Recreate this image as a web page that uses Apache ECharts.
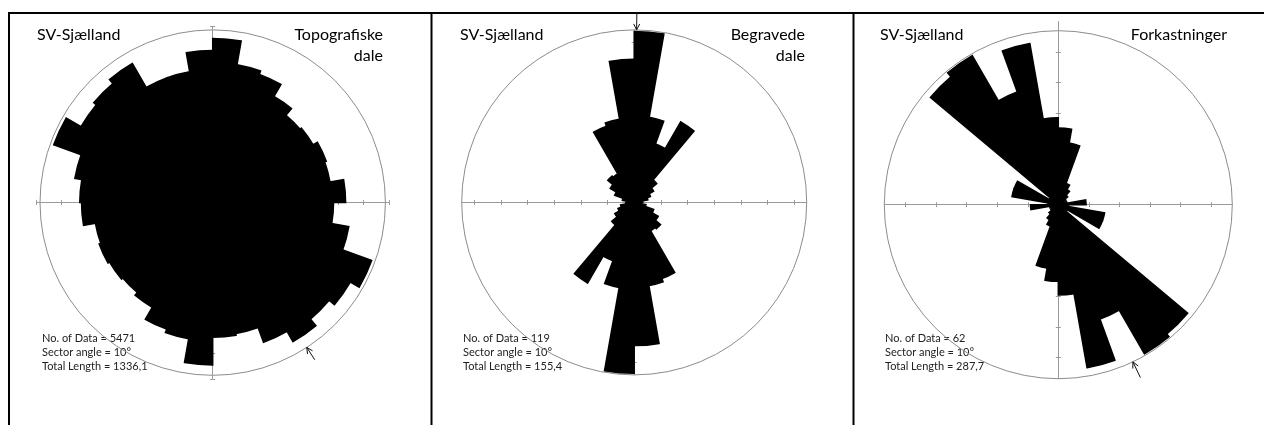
<!DOCTYPE html>
<html>
<head>
<meta charset="utf-8">
<script src="https://cdn.jsdelivr.net/npm/echarts@6/dist/echarts.min.js"></script>
<style>
  html, body { margin: 0; padding: 0; background: #fff; }
  #chart { width: 1264px; height: 425px; }
</style>
</head>
<body>
<div id="chart"></div>
<script>
// 10° sectors, clockwise from north
const sectors = Array.from({ length: 36 }, (_, i) => (i * 10) + '-' + (i * 10 + 10) + '°');

// Sector lengths in axis tick units, 0-10°, 10-20°, ... 350-360°
const topografiskeDale = [
  6.52, 5.56, 5.42, 4.87, 4.53, 4.60, 4.80, 4.73, 5.28,
  4.80, 5.49, 6.72, 6.31, 6.04, 6.38, 5.90, 5.28, 5.35,
  6.45, 5.49, 5.35, 4.80, 4.66, 4.73, 4.80, 4.73, 5.21,
  5.28, 5.56, 6.72, 6.04, 6.17, 6.38, 5.28, 5.28, 6.04
];
const begravedeDale = [
  6.41, 3.24, 2.33, 3.49, 1.10, 0.84, 0.65, 0.52, 0.32,
  0.26, 0.45, 0.78, 1.04, 1.29, 1.23, 3.04, 3.17, 5.37,
  6.41, 3.24, 2.33, 3.49, 1.10, 0.84, 0.65, 0.52, 0.32,
  0.26, 0.45, 0.78, 1.04, 1.29, 1.23, 3.04, 3.17, 5.37
];
const forkastninger = [
  2.51, 2.05, 0.74, 0.57, 0.40, 0.29, 0.23, 0.29, 0.91,
  0.34, 1.54, 1.54, 0.34, 5.53, 5.64, 3.99, 5.42, 2.96,
  2.51, 2.11, 0.74, 0.57, 0.40, 0.29, 0.23, 0.29, 0.91,
  0.34, 1.54, 1.54, 0.34, 5.47, 5.64, 3.93, 5.36, 2.85
];

// Outer ring value of each diagram, in tick units
const ringValues = [6.86, 6.47, 5.70];
// Extent of the axis cross: [x half-length, y bottom, y top]
const crossExtents = [[7, -7, 7], [6.47, -6.47, 6.47], [5.70, -5.70, 6.0]];
// Tick positions on the cross
const crossTicks = [
  [-7, -6, -5, -4, -3, -2, -1, 1, 2, 3, 4, 5, 6, 7],
  [-6, -5, -4, -3, -2, -1, 1, 2, 3, 4, 5, 6],
  [-5, -4, -3, -2, -1, 1, 2, 3, 4, 5]
];
// Mean direction marker: [azimuth °, from (×ring), to (×ring)]
const meanDirections = [[147, 1.085, 1.0], [0.8, 1.10, 1.0], [154.6, 1.10, 1.0]];

const region = 'SV-Sjælland';
const titles = [['Topografiske', 'dale'], ['Begravede', 'dale'], ['Forkastninger']];
const statLines = [
  ['No. of Data = 5471', 'Sector angle = 10°', 'Total Length = 1336,1'],
  ['No. of Data = 119', 'Sector angle = 10°', 'Total Length = 155,4'],
  ['No. of Data = 62', 'Sector angle = 10°', 'Total Length = 287,7']
];
const seriesData = [topografiskeDale, begravedeDale, forkastninger];

// Page layout (pixels)
const centers = [[212.7, 202.6], [634.2, 202.4], [1058.3, 204.7]];
const radii = [172.7, 172.5, 174.0];
const panelLeft = [37, 460, 880];
const panelRight = [383, 805, 1227];
const statLeft = [42, 463, 885];

const FONT = 'Lato, "Open Sans", sans-serif';
const ringColor = '#8c8c8c';
const crossColor = '#9a9a9a';

const polar = [], angleAxis = [], radiusAxis = [], grid = [], xAxis = [], yAxis = [], series = [], graphic = [];

for (let p = 0; p < 3; p++) {
  const [cx, cy] = centers[p];
  const R = radii[p];
  const u = R / ringValues[p];
  const [xe, yb, yt] = crossExtents[p];

  polar.push({ center: [cx, cy], radius: R });
  angleAxis.push({
    polarIndex: p, type: 'category', data: sectors, startAngle: 90, clockwise: true, boundaryGap: true,
    axisLine: { show: true, lineStyle: { color: ringColor, width: 1 } },
    axisTick: { show: false }, axisLabel: { show: false }, splitLine: { show: false }
  });
  radiusAxis.push({
    polarIndex: p, type: 'value', min: 0, max: ringValues[p],
    axisLine: { show: false }, axisTick: { show: false }, axisLabel: { show: false }, splitLine: { show: false }
  });

  grid.push({ left: cx - xe * u, top: cy - yt * u, width: 2 * xe * u, height: (yt - yb) * u, containLabel: false });
  const tickStyle = { show: true, length: 2.5, customValues: crossTicks[p], lineStyle: { color: crossColor, width: 1 } };
  ['bottom', 'top'].forEach((pos, k) => {
    xAxis.push({
      gridIndex: p, type: 'value', position: pos, min: -xe, max: xe,
      axisLine: { show: k === 0, onZero: true, lineStyle: { color: crossColor, width: 1 } },
      axisTick: tickStyle, axisLabel: { show: false }, splitLine: { show: false }
    });
  });
  ['left', 'right'].forEach((pos, k) => {
    yAxis.push({
      gridIndex: p, type: 'value', position: pos, min: yb, max: yt,
      axisLine: { show: k === 0, onZero: true, lineStyle: { color: crossColor, width: 1 } },
      axisTick: tickStyle, axisLabel: { show: false }, splitLine: { show: false }
    });
  });

  series.push({
    type: 'bar', coordinateSystem: 'polar', polarIndex: p, data: seriesData[p],
    barCategoryGap: '0%', z: 3,
    itemStyle: { color: '#000', borderColor: '#000', borderWidth: 1.5, borderJoin: 'miter' },
    silent: true
  });

  const ring = ringValues[p];
  series.push({
    type: 'custom', coordinateSystem: 'cartesian2d', xAxisIndex: 2 * p, yAxisIndex: 2 * p, clip: false, z: 4,
    data: [meanDirections[p]], silent: true,
    renderItem(params, api) {
      const az = api.value(0) * Math.PI / 180;
      const r0 = api.value(1) * ring, r1 = api.value(2) * ring;
      const p0 = api.coord([r0 * Math.sin(az), r0 * Math.cos(az)]);
      const p1 = api.coord([r1 * Math.sin(az), r1 * Math.cos(az)]);
      const dx = p1[0] - p0[0], dy = p1[1] - p0[1];
      const len = Math.hypot(dx, dy), ux = dx / len, uy = dy / len;
      const h = 6, w = 3;
      const a = [p1[0] - ux * h - uy * w, p1[1] - uy * h + ux * w];
      const b = [p1[0] - ux * h + uy * w, p1[1] - uy * h - ux * w];
      return {
        type: 'group', children: [
          { type: 'line', shape: { x1: p0[0], y1: p0[1], x2: p1[0], y2: p1[1] }, style: { stroke: '#111', lineWidth: 1 } },
          { type: 'polyline', shape: { points: [a, p1, b] }, style: { stroke: '#111', fill: null, lineWidth: 1 } }
        ]
      };
    }
  });

  // Texts
  graphic.push({
    type: 'text', left: panelLeft[p], top: 27,
    style: { text: region, font: '16px ' + FONT, fill: '#000' }
  });
  titles[p].forEach((line, k) => {
    graphic.push({
      type: 'text', x: panelRight[p], y: 27 + k * 21,
      style: { text: line, font: '16px ' + FONT, fill: '#000', align: 'right', verticalAlign: 'top' }
    });
  });
  statLines[p].forEach((line, k) => {
    graphic.push({
      type: 'text', x: statLeft[p], y: 333 + k * 14,
      style: { text: line, font: '11px ' + FONT, fill: '#222', verticalAlign: 'top' }
    });
  });
}

// Panel frame
const frame = { stroke: '#000', lineWidth: 2 };
graphic.push({ type: 'line', shape: { x1: 8, y1: 13, x2: 1264, y2: 13 }, style: frame });
graphic.push({ type: 'line', shape: { x1: 9, y1: 12, x2: 9, y2: 425 }, style: frame });
graphic.push({ type: 'line', shape: { x1: 431.5, y1: 12, x2: 431.5, y2: 425 }, style: frame });
graphic.push({ type: 'line', shape: { x1: 853.5, y1: 12, x2: 853.5, y2: 425 }, style: frame });

const chart = echarts.init(document.getElementById('chart'), null, { renderer: 'canvas' });
chart.setOption({
  backgroundColor: '#fff',
  animation: false,
  polar, angleAxis, radiusAxis, grid, xAxis, yAxis, series, graphic
});
</script>
</body>
</html>
